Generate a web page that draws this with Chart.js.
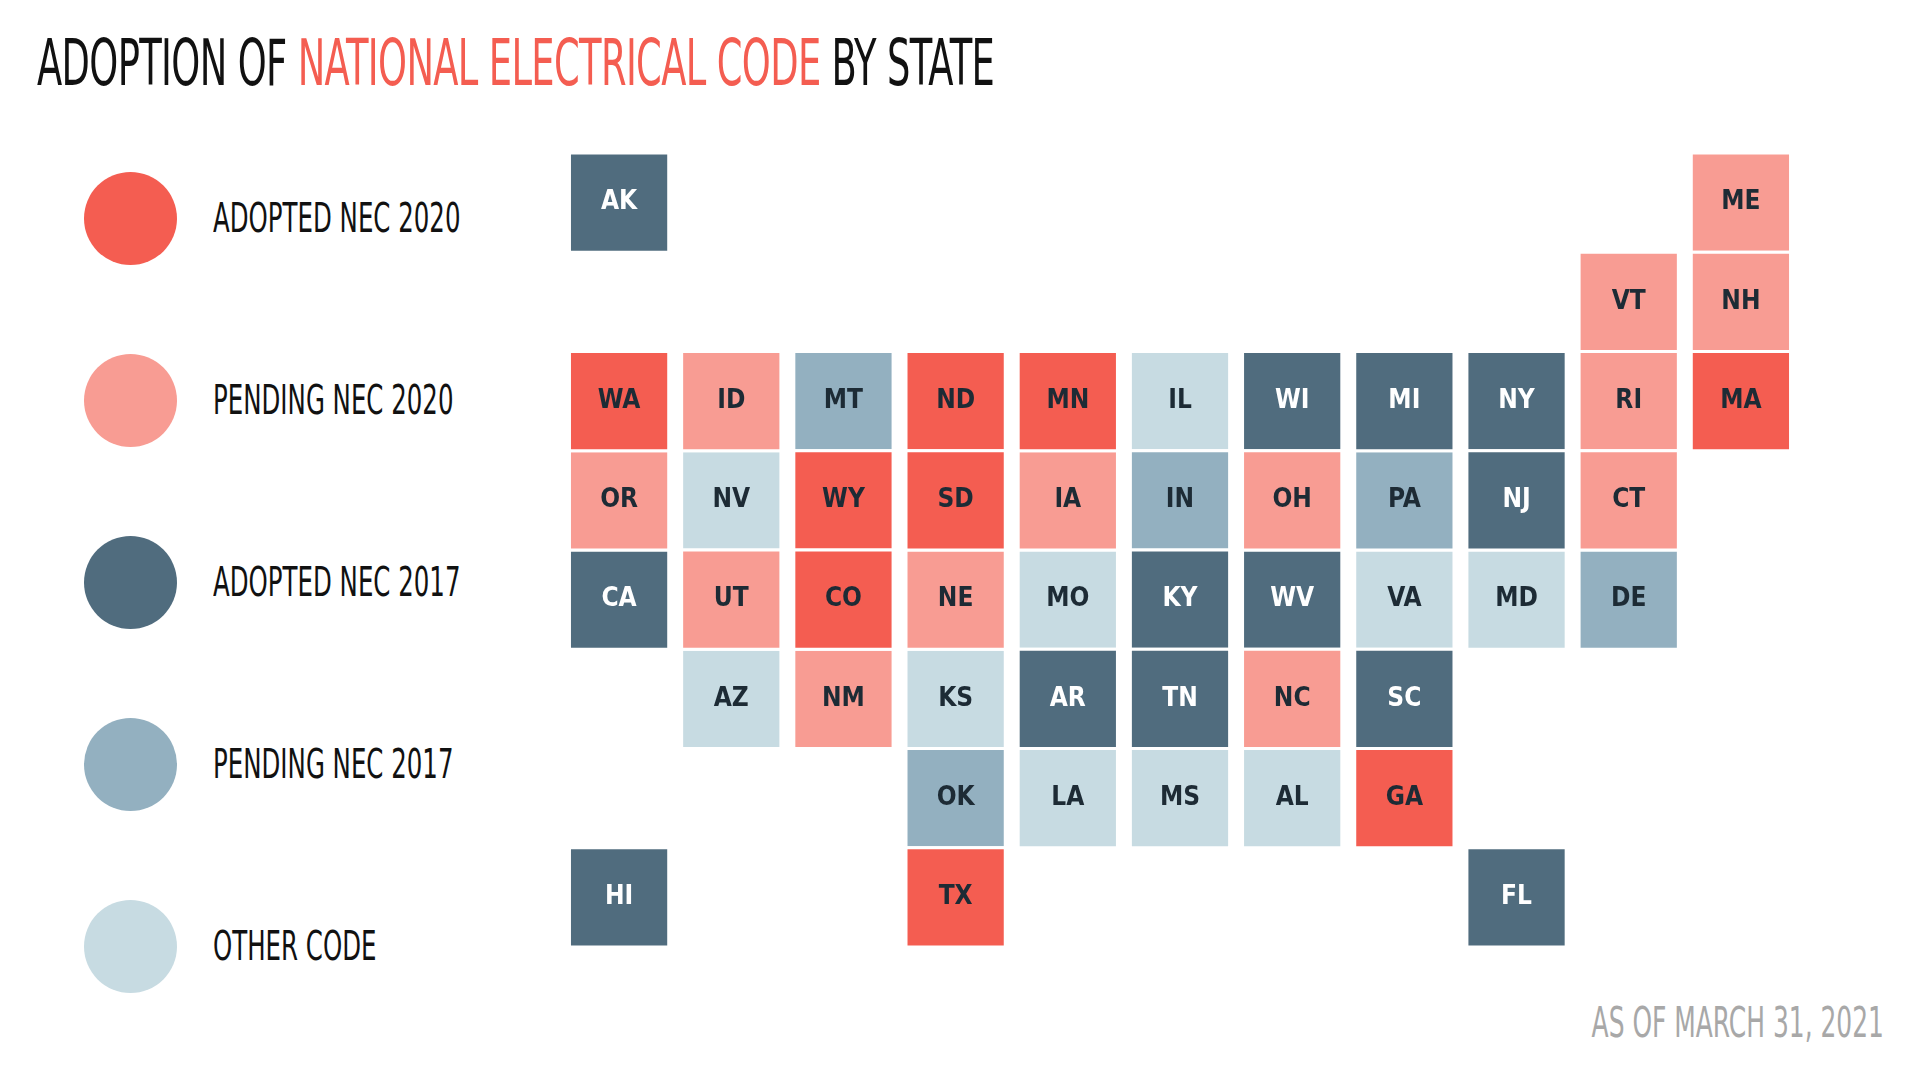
<!DOCTYPE html>
<html><head><meta charset="utf-8">
<script src="https://cdn.jsdelivr.net/npm/chart.js@4.4.1/dist/chart.umd.min.js"></script>
<style>
html,body{margin:0;padding:0;width:1920px;height:1080px;background:#fff;overflow:hidden;font-family:"DejaVu Sans Condensed","Roboto",sans-serif;}
#title{position:absolute;left:37px;top:26px;font-size:64px;color:#111;letter-spacing:-1px;transform:scaleX(0.64);transform-origin:left;white-space:nowrap}
#title span{color:#F45D51}
#legend{position:absolute;left:84px;top:127px}
.item{display:flex;align-items:center;height:182px}
.dot{width:93px;height:93px;border-radius:50%;margin-right:36px}
.lab{font-size:40px;color:#111;transform:scaleX(0.68);transform-origin:left;white-space:nowrap}
#foot{position:absolute;right:36px;top:998px;font-size:42px;color:#a8a8a8;transform:scaleX(0.66);transform-origin:right}
#wrap{position:absolute;left:520px;top:110px;width:1320px;height:880px}
</style></head><body>
<div id="title">ADOPTION OF <span>NATIONAL ELECTRICAL CODE</span> BY STATE</div>
<div id="legend"></div>
<div id="foot">AS OF MARCH 31, 2021</div>
<div id="wrap"><canvas id="c"></canvas></div>
<script>
const categories = ["ADOPTED NEC 2020","PENDING NEC 2020","ADOPTED NEC 2017","PENDING NEC 2017","OTHER CODE"];
const colors = ["#F45D51","#F89C93","#506C7E","#93B0C0","#C7DBE2"];
const states = ["AK","ME","VT","NH","WA","ID","MT","ND","MN","IL","WI","MI","NY","RI","MA","OR","NV","WY","SD","IA","IN","OH","PA","NJ","CT","CA","UT","CO","NE","MO","KY","WV","VA","MD","DE","AZ","NM","KS","AR","TN","NC","SC","OK","LA","MS","AL","GA","HI","TX","FL"];
const status = [2,1,1,1,0,1,3,0,0,4,2,2,2,1,0,1,4,0,0,1,3,1,3,2,1,2,1,0,1,4,2,2,4,4,3,4,1,4,2,2,1,2,3,4,4,4,0,2,0,2];
const tileCol = [0,10,9,10,0,1,2,3,4,5,6,7,8,9,10,0,1,2,3,4,5,6,7,8,9,0,1,2,3,4,5,6,7,8,9,1,2,3,4,5,6,7,3,4,5,6,7,0,3,8];
const tileRow = [0,0,1,1,2,2,2,2,2,2,2,2,2,2,2,3,3,3,3,3,3,3,3,3,3,4,4,4,4,4,4,4,4,4,4,5,5,5,5,5,5,5,6,6,6,6,6,7,7,7];

const leg=document.getElementById('legend');
categories.forEach((c,i)=>{leg.innerHTML+=`<div class="item"><div class="dot" style="background:${colors[i]}"></div><div class="lab">${c}</div></div>`;});

const rad=(ctx)=>{const a=ctx.chart.chartArea; if(!a) return 40; return Math.min(a.width/11,a.height/8)*0.5/Math.SQRT1_2;};
const datasets = categories.map((c,k)=>({
  label:c,
  data: states.map((s,i)=>({x:tileCol[i],y:tileRow[i],s})).filter((d,i)=>status[i]===k),
  backgroundColor:colors[k], borderColor:'#fff', borderWidth:3,
  pointStyle:'rect', pointRadius:rad, pointHoverRadius:rad
}));

const labelPlugin={id:'lbl',afterDatasetsDraw(chart){
  const ctx=chart.ctx; ctx.save();
  ctx.font='bold 26px "DejaVu Sans Condensed",sans-serif';
  ctx.textAlign='center'; ctx.textBaseline='middle';
  chart.data.datasets.forEach((ds,k)=>{
    const meta=chart.getDatasetMeta(k);
    meta.data.forEach((p,j)=>{ctx.fillStyle=(k===2)?'#fff':'#1d2b35';ctx.fillText(ds.data[j].s,p.x,p.y);});
  });
  ctx.restore();}};

new Chart(document.getElementById('c'),{
  type:'scatter',data:{datasets},
  options:{responsive:true,maintainAspectRatio:false,animation:false,
    layout:{padding:0},
    plugins:{legend:{display:false},tooltip:{enabled:false}},
    scales:{
      x:{min:-0.5,max:10.5,display:false},
      y:{min:-0.5,max:7.5,reverse:true,display:false}
    }},
  plugins:[labelPlugin]
});
</script>
</body></html>
